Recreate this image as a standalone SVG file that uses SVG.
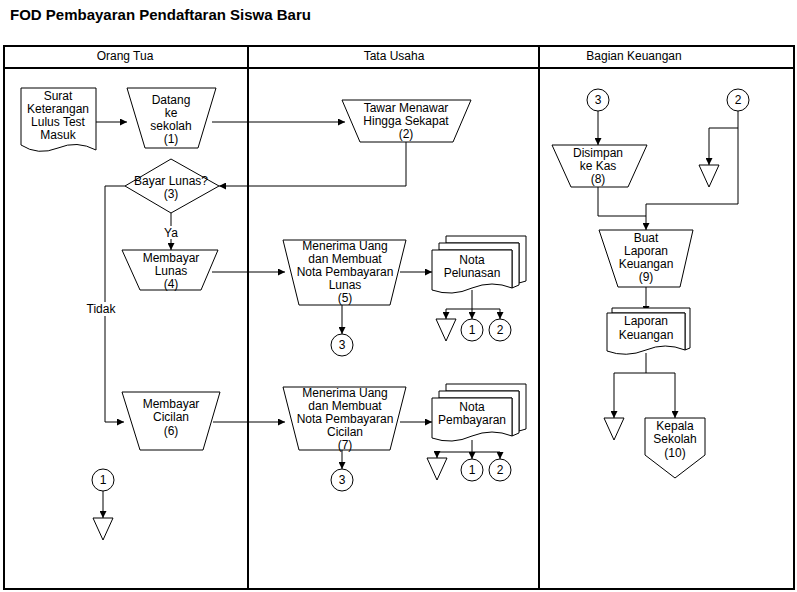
<svg xmlns="http://www.w3.org/2000/svg" width="797" height="592" viewBox="0 0 797 592">
<defs>
<marker id="a" viewBox="0 0 10 10" refX="10" refY="5" markerWidth="7" markerHeight="7" orient="auto" markerUnits="userSpaceOnUse"><path d="M0,0 L10,5 L0,10 z" fill="#000"/></marker>
<style>
text{font-family:"Liberation Sans",Arial,sans-serif;font-size:12px;text-anchor:middle;fill:#000}
.s{fill:#fff;stroke:#000;stroke-width:1}
.c{fill:none;stroke:#000;stroke-width:1}
.ar{marker-end:url(#a)}
</style>
</defs>
<rect width="797" height="592" fill="#fff"/>
<text x="10" y="20" style="font-size:15px;font-weight:bold;text-anchor:start">FOD Pembayaran Pendaftaran Siswa Baru</text>
<g id="lanes" fill="none" stroke="#000" stroke-width="2">
<rect x="4" y="46" width="790" height="543"/>
<line x1="4" y1="68" x2="794" y2="68"/>
<line x1="248" y1="46" x2="248" y2="589"/>
<line x1="539" y1="46" x2="539" y2="589"/>
</g>
<text x="125" y="60">Orang Tua</text>
<text x="394" y="60">Tata Usaha</text>
<text x="634" y="60">Bagian Keuangan</text>

<g id="connectors">
<path class="c ar" d="M96,122 H127"/>
<path class="c ar" d="M212,122 H345"/>
<path class="c ar" d="M406,142 V186 H219"/>
<path class="c ar" d="M171,213 V250"/>
<path class="c ar" d="M125,186 H105 V422 H124"/>
<path class="c ar" d="M212,272 H285"/>
<path class="c ar" d="M400,272 H432"/>
<path class="c ar" d="M342,305 V334"/>
<path class="c ar" d="M472,290 V319"/>
<path class="c ar" d="M472,309 H446 V319"/>
<path class="c ar" d="M472,309 H500 V319"/>
<path class="c ar" d="M213,422 H285"/>
<path class="c ar" d="M400,422 H432"/>
<path class="c ar" d="M342,450 V469"/>
<path class="c ar" d="M472,440 V459"/>
<path class="c ar" d="M472,452 H437 V458"/>
<path class="c ar" d="M472,452 H500 V459"/>
<path class="c ar" d="M103,491 V518"/>
<path class="c ar" d="M598,111 V145"/>
<path class="c ar" d="M738,111 V128 H709 V165"/>
<path class="c ar" d="M738,128 V204 H646 V230"/>
<path class="c" d="M598,187 V216 H646"/>
<path class="c ar" d="M646,287 V313"/>
<path class="c ar" d="M646,353 V373 H614 V418"/>
<path class="c ar" d="M646,373 H675 V418"/>
</g>
<rect x="85" y="302" width="34" height="14" fill="#fff"/>
<text x="101" y="313">Tidak</text>
<rect x="163" y="226" width="16" height="13" fill="#fff"/>
<text x="171" y="237">Ya</text>

<g id="n-surat"><path class="s" d="M21,88 H96 V150 Q77,140 58,148 Q38,156 21,145 Z"/>
<text x="58" y="100">Surat</text><text x="58" y="113">Keterangan</text><text x="58" y="126">Lulus Test</text><text x="58" y="139">Masuk</text></g>
<g id="n1"><path class="s" d="M127,88 H216 L198,148 H145 Z"/>
<text x="171" y="104">Datang</text><text x="171" y="117">ke</text><text x="171" y="130">sekolah</text><text x="171" y="143">(1)</text></g>
<g id="n2"><path class="s" d="M342,100 H471 L453,142 H360 Z"/>
<text x="406" y="112">Tawar Menawar</text><text x="406" y="125">Hingga Sekapat</text><text x="406" y="138">(2)</text></g>
<g id="n3"><path class="s" d="M171,159 L219,186 L171,213 L125,186 Z"/>
<text x="171" y="185">Bayar Lunas?</text><text x="171" y="198">(3)</text></g>
<g id="n4"><path class="s" d="M122,250 H218 L201,290 H140 Z"/>
<text x="171" y="262">Membayar</text><text x="171" y="275">Lunas</text><text x="171" y="288">(4)</text></g>
<g id="n6"><path class="s" d="M122,392 H220 L203,450 H140 Z"/>
<text x="171" y="408">Membayar</text><text x="171" y="421">Cicilan</text><text x="171" y="435">(6)</text></g>
<g id="n5"><path class="s" d="M283,240 H406 L390,305 H299 Z"/>
<text x="345" y="250">Menerima Uang</text><text x="345" y="263">dan Membuat</text><text x="345" y="276">Nota Pembayaran</text><text x="345" y="289">Lunas</text><text x="345" y="302">(5)</text></g>
<g id="n7"><path class="s" d="M283,387 H406 L390,450 H299 Z"/>
<text x="345" y="397">Menerima Uang</text><text x="345" y="410">dan Membuat</text><text x="345" y="423">Nota Pembayaran</text><text x="345" y="436">Cicilan</text><text x="345" y="449">(7)</text></g>
<g id="nota-pelunasan">
<path class="s" d="M446,236 H526 V281 L519,283 V243 H446 Z"/>
<path class="s" d="M439,243 H519 V285 L512,288 V250 H439 Z"/>
<path class="s" d="M432,250 H512 V288 Q492,280 472,288 Q452,297 432,290 Z"/>
<text x="472" y="264">Nota</text><text x="472" y="277">Pelunasan</text></g>
<g id="nota-pembayaran">
<path class="s" d="M446,384 H526 V429 L519,431 V391 H446 Z"/>
<path class="s" d="M439,391 H519 V433 L512,436 V398 H439 Z"/>
<path class="s" d="M432,398 H512 V436 Q492,428 472,436 Q452,445 432,438 Z"/>
<text x="472" y="411">Nota</text><text x="472" y="424">Pembayaran</text></g>
<g id="c3a"><circle class="s" cx="342" cy="345" r="11"/><text x="342" y="349">3</text></g>
<g id="c3b"><circle class="s" cx="342" cy="480" r="11"/><text x="342" y="484">3</text></g>
<g id="c1a"><circle class="s" cx="472" cy="330" r="11"/><text x="472" y="334">1</text></g>
<g id="c2a"><circle class="s" cx="500" cy="330" r="11"/><text x="500" y="334">2</text></g>
<g id="c1b"><circle class="s" cx="472" cy="470" r="11"/><text x="472" y="474">1</text></g>
<g id="c2b"><circle class="s" cx="500" cy="470" r="11"/><text x="500" y="474">2</text></g>
<g id="c1c"><circle class="s" cx="103" cy="480" r="11"/><text x="103" y="484">1</text></g>
<g id="c3c"><circle class="s" cx="598" cy="100" r="11"/><text x="598" y="104">3</text></g>
<g id="c2c"><circle class="s" cx="738" cy="100" r="11"/><text x="738" y="104">2</text></g>
<g id="t1"><path class="s" d="M436,319 H456 L446,341 Z"/></g>
<g id="t2"><path class="s" d="M427,458 H447 L437,480 Z"/></g>
<g id="t3"><path class="s" d="M93,518 H113 L103,540 Z"/></g>
<g id="t4"><path class="s" d="M699,165 H719 L709,187 Z"/></g>
<g id="t5"><path class="s" d="M604,418 H624 L614,440 Z"/></g>
<g id="n8"><path class="s" d="M552,145 H647 L628,187 H571 Z"/>
<text x="598" y="157">Disimpan</text><text x="598" y="170">ke Kas</text><text x="598" y="183">(8)</text></g>
<g id="n9"><path class="s" d="M599,230 H693 L680,287 H618 Z"/>
<text x="646" y="242">Buat</text><text x="646" y="255">Laporan</text><text x="646" y="268">Keuangan</text><text x="646" y="281">(9)</text></g>
<g id="laporan">
<path class="s" d="M612,308 H690 V348 L685,350 V313 H612 Z"/>
<path class="s" d="M607,313 H685 V350 Q665,342 646,350 Q626,358 607,351 Z"/>
<text x="646" y="325">Laporan</text><text x="646" y="339">Keuangan</text></g>
<g id="n10"><path class="s" d="M645,418 H705 V455 L675,478 L645,455 Z"/>
<text x="675" y="430">Kepala</text><text x="675" y="443">Sekolah</text><text x="675" y="457">(10)</text></g>
</svg>
